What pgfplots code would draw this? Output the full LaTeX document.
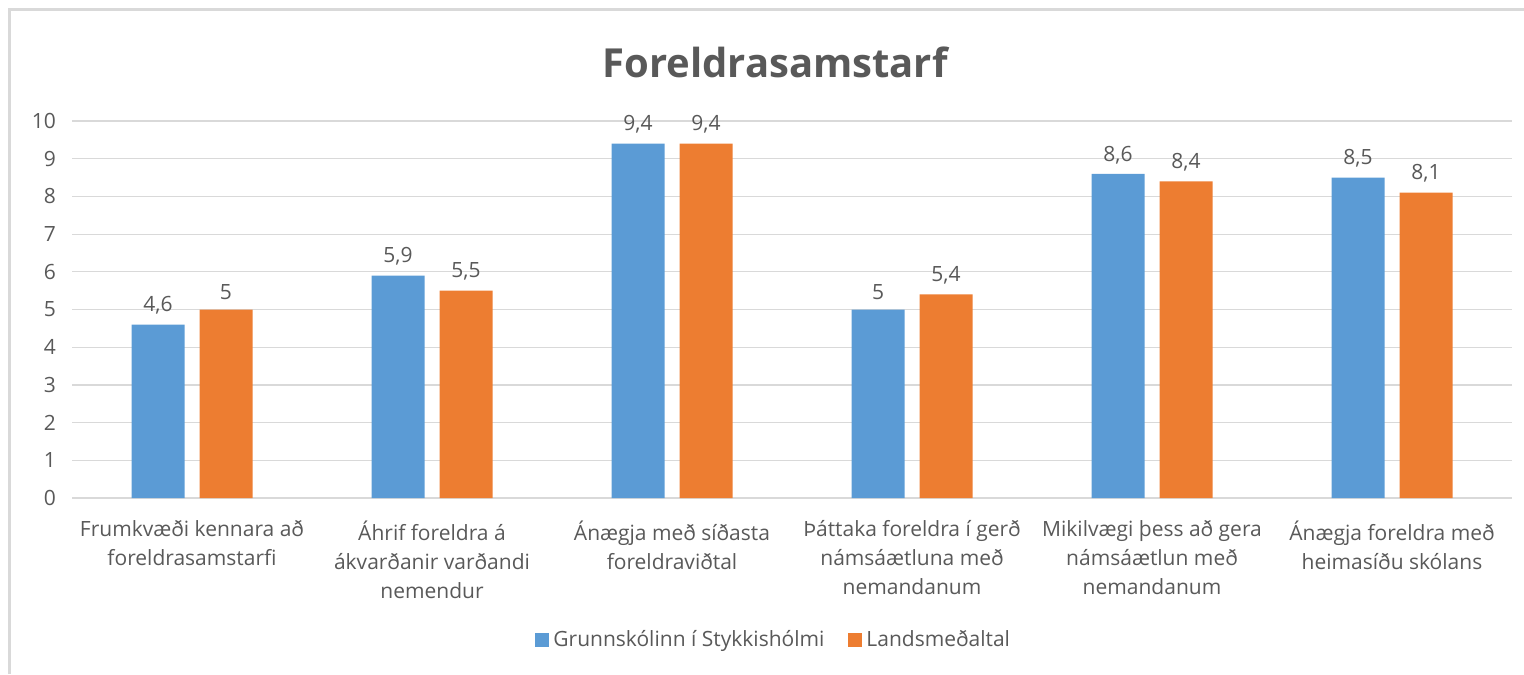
\documentclass[border=0pt]{standalone}
\usepackage{fontspec}
\setmainfont{Open Sans}
\usepackage{pgfplots}
\pgfplotsset{compat=1.18}
\definecolor{cblue}{HTML}{5B9BD5}
\definecolor{corange}{HTML}{ED7D31}
\definecolor{ctext}{HTML}{595959}
\definecolor{cgrid}{HTML}{D9D9D9}
\begin{document}
\begin{tikzpicture}
% page frame, 1px = 0.5pt
\path[use as bounding box] (0,0) rectangle (762pt,-337pt);
\draw[cgrid, line width=1.5pt] (4.75pt,-337pt) -- (4.75pt,-5pt) -- (762pt,-5pt);
\node[font=\bfseries\fontsize{20}{24}\selectfont, text=ctext] at (387.5pt,-31pt) {Foreldrasamstarf};
\begin{axis}[
  at={(36pt,-249pt)}, anchor=south west,
  scale only axis, width=720pt, height=188.5pt,
  ybar=7.5pt, bar width=26.5pt,
  xmin=-0.5, xmax=5.5, ymin=0, ymax=10,
  xtick={0,1,2,3,4,5},
  xticklabels={
    {Frumkvæði kennara að\\foreldrasamstarfi},
    {Áhrif foreldra á\\ákvarðanir varðandi\\nemendur},
    {Ánægja með síðasta\\foreldraviðtal},
    {Þáttaka foreldra í gerð\\námsáætluna með\\nemandanum},
    {Mikilvægi þess að gera\\námsáætlun með\\nemandanum},
    {Ánægja foreldra með\\heimasíðu skólans}},
  ytick={0,1,...,10},
  ymajorgrids, major grid style={cgrid, line width=0.6pt},
  axis line style={draw=none}, major tick style={draw=none},
  tick label style={font=\fontsize{10.5}{14.5}\selectfont, text=ctext},
  xticklabel style={align=center, anchor=north, yshift=-3.5pt},
  yticklabel style={xshift=-4.5pt},
  /pgf/number format/assume math mode=true,
  nodes near coords,
  nodes near coords style={font=\fontsize{10.5}{12}\selectfont, text=ctext, yshift=1.5pt,
    /pgf/number format/fixed, /pgf/number format/precision=1, /pgf/number format/use comma},
  legend style={at={(0.488,-0.3767)}, anchor=center, draw=none, legend columns=2,
    font=\fontsize{10.5}{12}\selectfont, text=ctext,
    /tikz/every even column/.append style={column sep=10pt}},
  legend image code/.code={\fill (0pt,-3.5pt) rectangle (7pt,3.5pt);},
]
\addplot[fill=cblue, draw=none] coordinates {(0,4.6) (1,5.9) (2,9.4) (3,5.0) (4,8.6) (5,8.5)};
\addplot[fill=corange, draw=none] coordinates {(0,5.0) (1,5.5) (2,9.4) (3,5.4) (4,8.4) (5,8.1)};
\legend{Grunnskólinn í Stykkishólmi, Landsmeðaltal}
\end{axis}
\end{tikzpicture}
\end{document}
